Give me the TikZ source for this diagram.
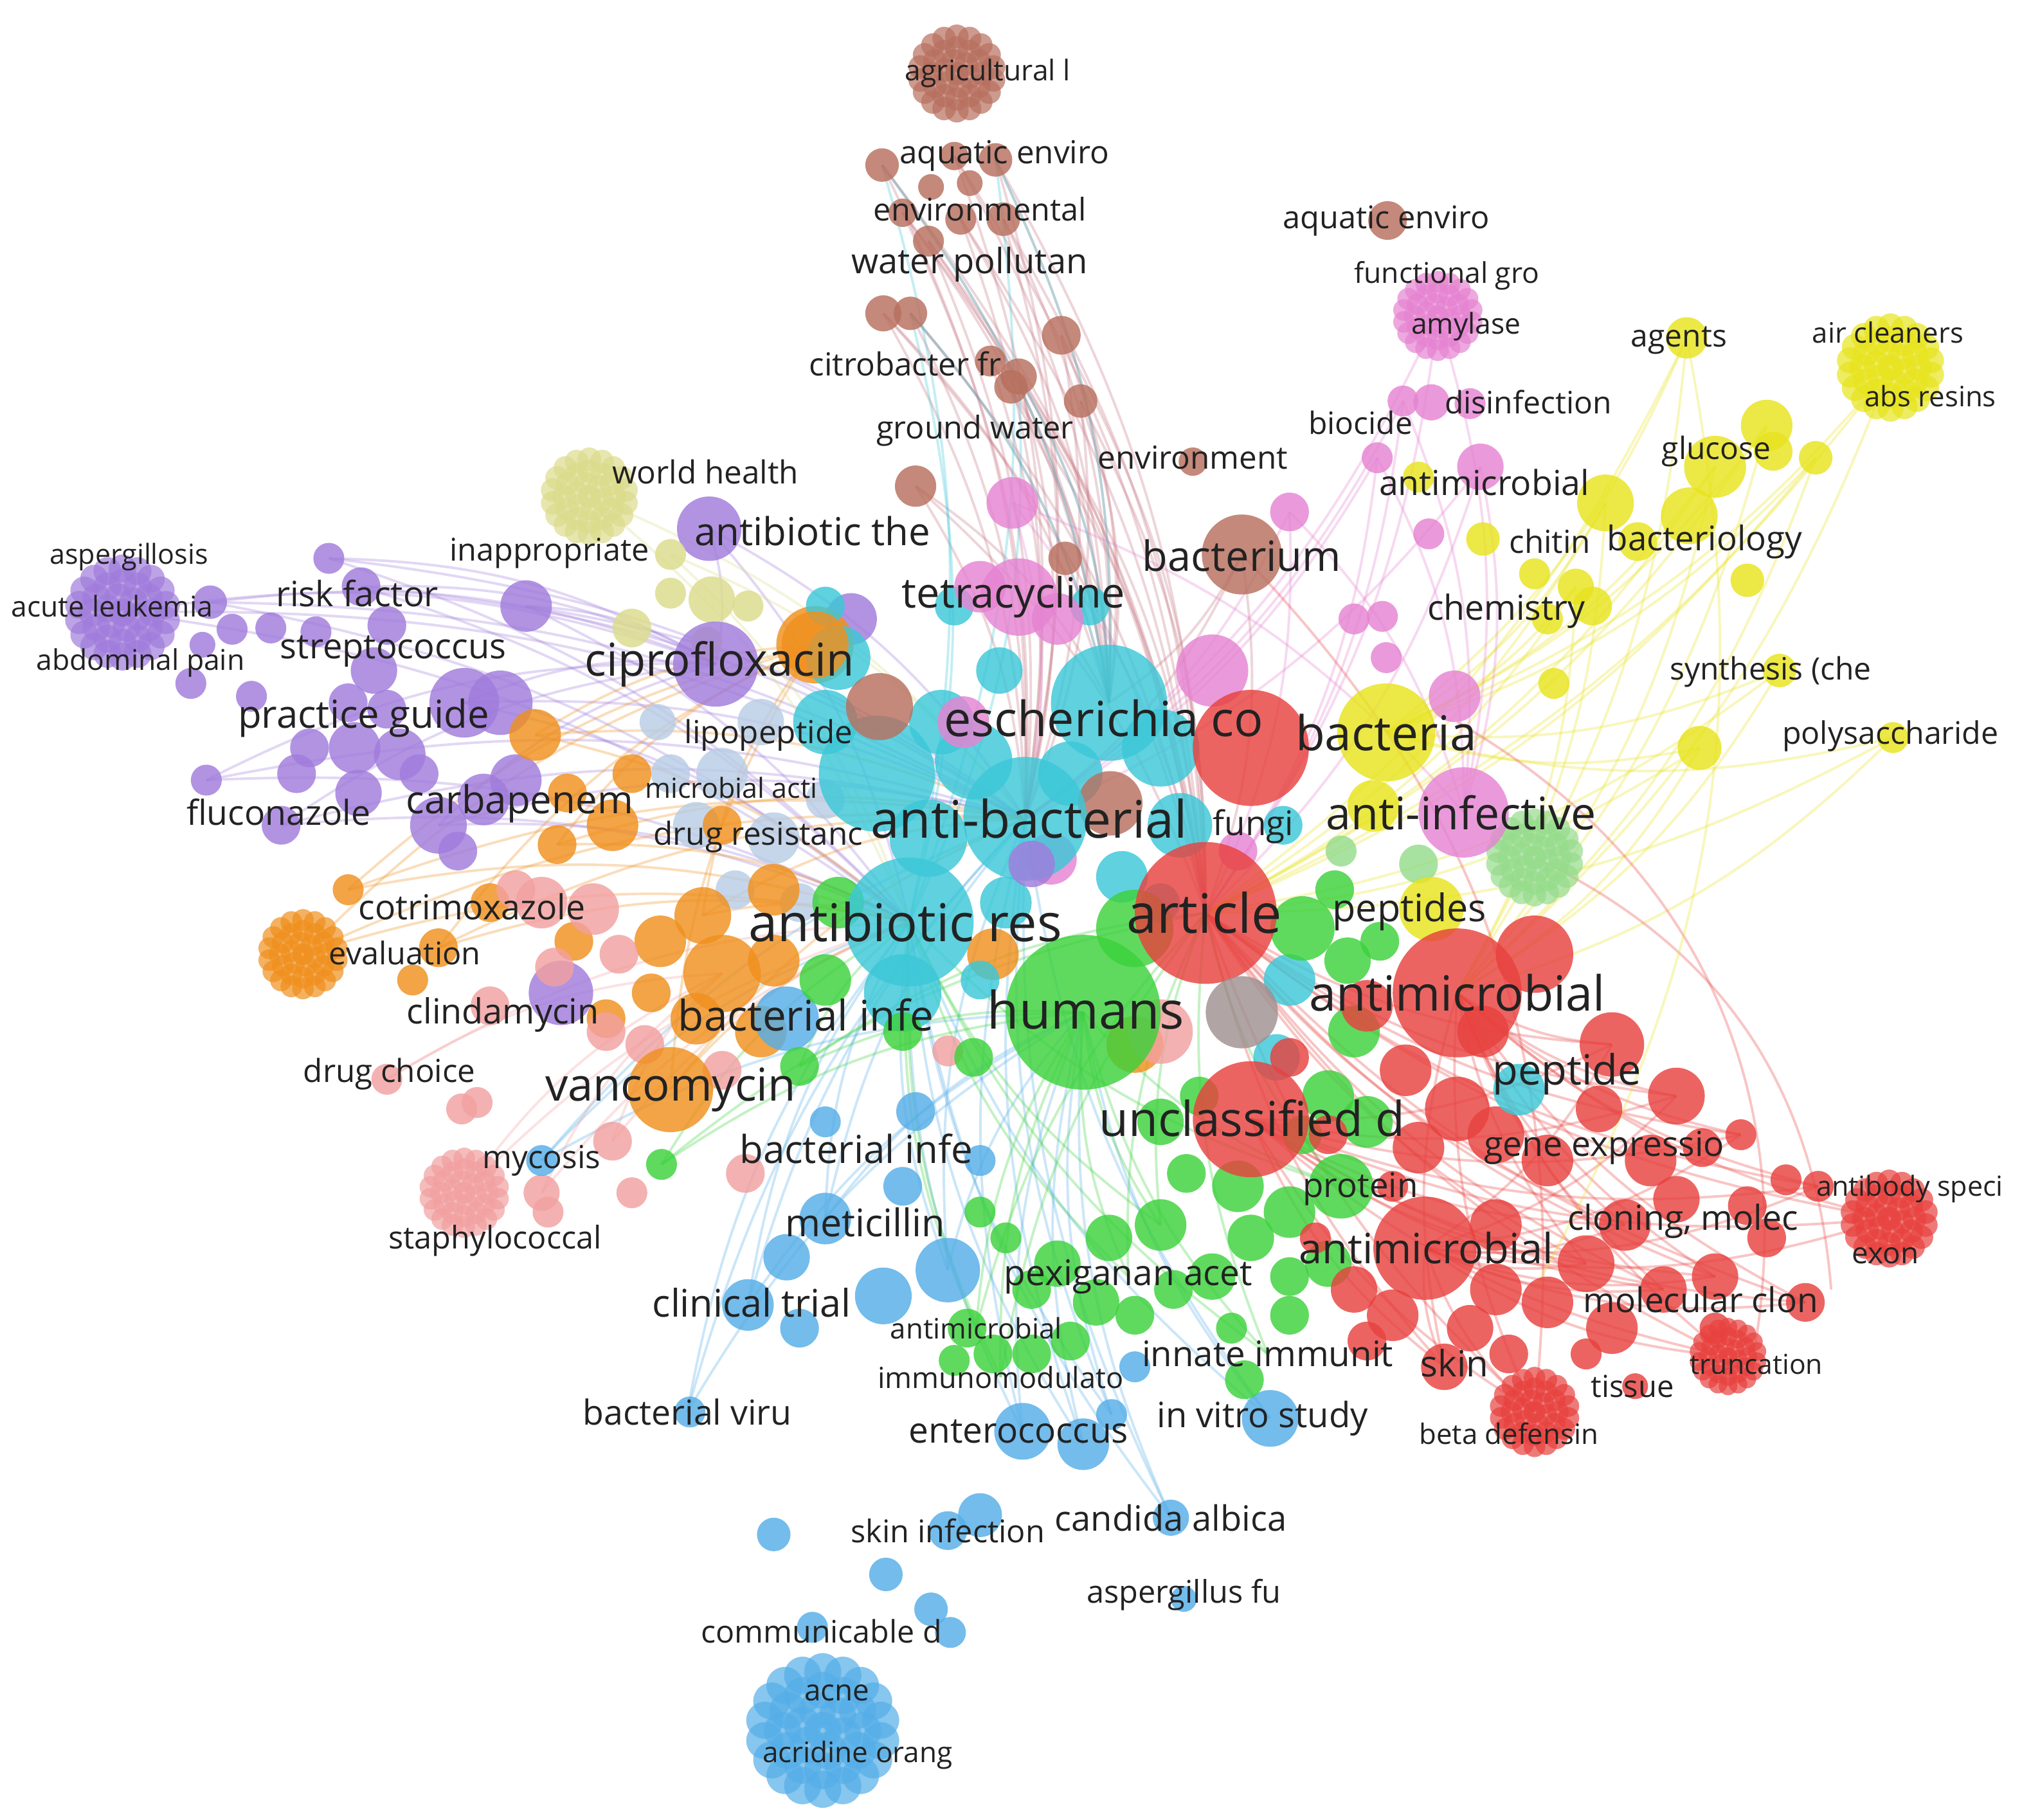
\documentclass[tikz,border=0pt]{standalone}
\usepackage{fontspec}
\setmainfont{Open Sans}
\definecolor{cRed}{HTML}{E8423F}
\definecolor{cGreen}{HTML}{3CD23C}
\definecolor{cBlue}{HTML}{55AEE8}
\definecolor{cYellow}{HTML}{E8E41E}
\definecolor{cPurple}{HTML}{A07CDC}
\definecolor{cCyan}{HTML}{3CC8D8}
\definecolor{cOrange}{HTML}{F0901E}
\definecolor{cBrown}{HTML}{B8705F}
\definecolor{cPink}{HTML}{E684D2}
\definecolor{cSalmon}{HTML}{F2A0A0}
\definecolor{cKhaki}{HTML}{DCDC8C}
\definecolor{cLGreen}{HTML}{96DC8C}
\definecolor{cLBlue}{HTML}{B9CDE6}
\definecolor{cGrey}{HTML}{A09090}
\definecolor{cText}{HTML}{222222}
\tikzset{
  eline/.style={line width=0.55pt, draw opacity=0.3},
  lbl/.style={inner sep=0pt, text=cText}
}
\newcounter{lb}
\newcommand\lab[4]{\stepcounter{lb}\node[lbl,font=\fontsize{#3}{#3}\selectfont] (L\thelb) at (#1,#2) {#4};}
\newcommand\bubs[2]{\foreach \xx/\yy/\rr in {#2} {\fill[#1,fill opacity=.82] (\xx,\yy) circle[radius=\rr*0.01cm];}}
\newcommand\blob[4]{%
  \begin{scope}[shift={(#1,#2)}]
  \fill[#4,fill opacity=.7] (0,0) circle[radius=0.24*#3*0.01cm];
  \foreach \kk in {0,...,5} {\fill[#4,fill opacity=.7] ({0.27*#3*cos(60*\kk+15)},{0.27*#3*sin(60*\kk+15)}) circle[radius=0.24*#3*0.01cm];}
  \foreach \kk in {0,...,11} {\fill[#4,fill opacity=.7] ({0.52*#3*cos(30*\kk)},{0.52*#3*sin(30*\kk)}) circle[radius=0.24*#3*0.01cm];}
  \foreach \kk in {0,...,17} {\fill[#4,fill opacity=.7] ({0.76*#3*cos(20*\kk+10)},{0.76*#3*sin(20*\kk+10)}) circle[radius=0.24*#3*0.01cm];}
  \end{scope}}
\newcommand\edges[3]{\foreach \sx/\sy in {#2} {\foreach \tx/\ty in {#3} {\draw[#1,eline] (\sx,\sy) to[bend left=14] (\tx,\ty);}}}
\begin{document}
\begin{tikzpicture}[x=0.01cm,y=-0.01cm]
\fill[white] (0,0) rectangle (1568,1411);
\useasboundingbox (0,0) rectangle (1568,1411);
% ---------------- edges
\edges{cBrown!70!cPink}{684/128,740/121,772/124,700/165,745/170,778/170,720/187,685/243,706/243,823/260,768/280,790/292,838/311,710/377,963/430}{795/635,935/708,860/545}
\edges{cPurple}{95/475,255/433,163/467,280/455,408/470,360/545,218/640,160/605,550/410,340/640}{555/515,705/715,795/635}
\edges{cYellow}{1308/262,1370/330,1466/285,1245/390,1330/362,1380/520,1468/572,1318/580,1222/455,1408/355}{1075/568,935/708,1130/770}
\edges{cPink}{1115/245,1148/362,1000/397,1088/311,1068/355,785/390}{795/635,935/708,1135/630}
\edges{cRed}{1465/945,1340/1052,1190/1095,1300/850,1250/810,1350/880,1400/1010,1330/990,1260/950,1290/1000,1120/1060,1230/980,1410/920}{1130/770,935/708,970/868,1105/968}
\edges{cBlue}{580/1012,533/1095,793/1110,840/1120,985/1100,420/900,640/945,735/985,862/1097,908/1177}{705/715,795/635,840/785}
\edges{cGreen}{875/990,983/1050,757/1030,776/1068,1040/920,900/950,513/903,620/827}{840/785,935/708,705/715}
\edges{cOrange}{235/740,415/570,432/655,520/845,340/735,270/690,545/710}{705/715,795/635,632/500}
\edges{cSalmon}{360/925,300/837,475/885,420/925}{705/715,560/755}
\edges{cKhaki}{457/385,520/430}{705/715,795/635}
\edges{cCyan}{684/128,772/124,706/243,790/292}{705/715,860/545}
\draw[cRed,eline] (1420,1000) to[bend right=30] (1190,665);
\draw[cRed,eline] (1360,1050) to[bend right=35] (1130,560);
\draw[cRed,eline] (1190,1095) to[bend right=25] (963,430);
\draw[cYellow,eline] (1308,262) to[bend left=20] (1190,1000);
% ---------------- bubbles
% brown
\blob{742}{57}{38}{cBrown}
\bubs{cBrown}{684/128/13,740/121/11,772/124/13,722/145/10,752/142/10,700/165/11,745/170/12,778/170/13,720/187/12,685/243/14,706/243/13,823/260/15,768/280/12,790/292/14,784/300/13,838/311/13,710/377/16,826/433/13,963/430/31,925/358/11,1076/171/15}
% purple
\blob{95}{475}{45}{cPurple}
\bubs{cPurple}{255/433/12,163/467/13,157/500/10,180/488/12,210/487/12,245/490/12,280/455/15,300/485/15,290/520/18,300/550/15,270/545/15,240/580/15,230/600/15,160/605/12,218/640/15,278/615/18,275/580/20,310/585/20,360/545/27,388/545/25,408/470/20,325/600/15,340/640/22,400/605/20,375/620/20,355/660/15,435/770/25,550/410/25,148/530/12,195/540/12,660/480/20}
% khaki
\blob{457}{385}{38}{cKhaki}
\bubs{cKhaki}{520/430/12,552/465/18,490/487/15,548/498/12,580/470/12,520/460/12}
% light blue grey
\bubs{cLBlue}{560/600/20,590/560/18,540/640/18,600/650/20,570/690/15,520/600/15,620/700/15,640/620/15,510/560/14}
% orange
\blob{235}{740}{35}{cOrange}
\bubs{cOrange}{632/500/30,415/570/20,440/615/15,432/655/15,475/640/20,490/600/15,545/710/22,560/755/30,600/745/20,512/730/20,505/770/15,770/740/20,270/690/12,340/735/15,320/760/12,380/700/15,470/790/15,590/800/20,880/810/22,560/640/15,600/690/20,540/790/20,445/730/15}
% salmon
\blob{360}{925}{35}{cSalmon}
\bubs{cSalmon}{300/837/12,370/855/12,358/860/12,420/925/14,425/940/12,475/885/15,490/925/12,578/910/15,400/690/15,420/700/20,460/705/20,480/740/15,430/750/15,470/800/15,500/810/15,380/780/15,735/815/12,900/800/25,560/830/15}
\bubs{cOrange}{520/845/33}
% cyan
\bubs{cCyan}{680/600/45,650/510/25,775/520/18,730/560/25,755/590/30,830/600/25,900/580/30,915/640/25,720/650/30,640/560/25,780/700/20,760/760/15,995/640/15,1000/760/20,990/820/18,700/770/30,640/470/15,740/470/15,870/680/20,900/700/15,845/470/15}
\bubs{cBrown}{682/548/26,861/623/25}
% pink
\blob{1115}{245}{35}{cPink}
\bubs{cPink}{1088/311/12,1110/312/14,1140/313/12,1068/355/12,1000/397/15,1148/362/18,1108/414/12,785/390/20,760/455/20,940/520/28,1128/540/20,1072/478/12,1075/510/12,820/480/20,960/660/15,1050/480/12,747/560/20,815/666/20}
\bubs{cPink}{790/463/30}
% yellow
\blob{1466}{285}{42}{cYellow}
\bubs{cYellow}{1308/262/16,1370/330/20,1330/362/24,1408/355/13,1375/350/15,1245/390/22,1310/400/22,1270/420/15,1150/418/13,1190/445/12,1222/455/14,1355/450/13,1200/480/12,1380/520/13,1468/572/12,1318/580/17,1205/530/12,1065/625/20,1235/470/15,1100/370/12}
\bubs{cYellow}{1075/568/38}
% light green
\blob{1190}{665}{38}{cLGreen}
\bubs{cLGreen}{1100/670/15,1040/660/12}
\bubs{cPink}{1135/630/35}
% blue
\blob{638}{1342}{60}{cBlue}
\bubs{cBlue}{710/862/15,640/945/20,735/985/25,685/1005/22,610/975/18,580/1012/20,620/1030/15,535/1095/12,793/1110/22,840/1120/20,862/1097/12,985/1100/22,420/900/12,610/790/25,908/1177/14,735/1187/15,760/1175/17,600/1190/13,687/1221/13,722/1248/13,737/1266/12,630/1262/12,918/1240/10,700/920/15,760/900/12,880/1060/12,640/870/12}
% green
\bubs{cGreen}{880/720/30,1010/720/25,1035/690/15,1045/745/18,1070/730/15,620/827/15,513/903/12,650/700/20,640/760/20,700/800/15,755/820/15,1050/800/20,1030/850/20,1060/870/20,1040/920/25,1000/940/20,960/920/20,920/910/15,900/950/20,860/960/18,820/980/18,800/1000/15,850/1010/18,880/1020/15,910/1000/15,940/990/18,970/960/18,1000/990/15,760/940/12,780/960/12,750/1030/15,770/1050/15,740/1055/12,800/1050/15,830/1040/15,965/1070/15,1000/1020/15,1030/980/18,900/870/18,930/850/15,1010/880/15,955/1030/12}
\bubs{cCyan}{795/635/48,860/545/45,705/715/50}
\bubs{cPurple}{555/515/33,800/670/18}
\bubs{cOrange}{632/500/26}
\bubs{cGreen}{840/785/60}
\bubs{cYellow}{1110/705/25}
% red
\blob{1190}{1095}{35}{cRed}
\blob{1465}{945}{38}{cRed}
\blob{1340}{1052}{30}{cRed}
\bubs{cRed}{970/580/45,1190/740/30,1250/810/25,1300/850/22,1060/780/20,1090/830/20,1130/860/25,1100/890/20,1160/880/22,1200/900/20,1240/860/18,1280/900/20,1320/890/15,1350/880/12,1300/930/18,1260/950/20,1230/980/22,1200/1010/20,1160/1000/20,1140/1030/18,1080/1020/20,1050/1000/18,1060/1040/15,1120/1060/18,1170/1050/15,1250/1030/20,1290/1000/18,1330/990/18,1370/960/15,1400/1010/15,1410/920/12,1385/915/12,1355/935/15,1330/1030/12,1160/950/20,1000/820/15,1030/880/15,1150/800/20,1268/1075/10,1230/1050/12,1020/960/12,1080/920/12}
\bubs{cRed}{935/708/55,1130/770/50,970/868/45,1105/968/40}
\bubs{cCyan}{1178/845/20}
\bubs{cGrey}{963/785/28}
% ---------------- labels
\lab{766}{57}{6.3}{agricultural l}
\lab{779}{121}{7.0}{aquatic enviro}
\lab{760}{162}{6.9}{environmental}
\lab{752}{205}{7.7}{water pollutan}
\lab{702}{282}{7.0}{citrobacter fr}
\lab{756}{334}{6.9}{ground water}
\lab{925}{355}{7.0}{environment}
\lab{1075}{171}{6.9}{aquatic enviro}
\lab{1122}{214}{6.3}{functional gro}
\lab{1137}{253}{6.3}{amylase}
\lab{1302}{264}{6.8}{agents}
\lab{1464}{258}{6.2}{air cleaners}
\lab{1497}{307}{6.2}{abs resins}
\lab{1055}{328}{6.8}{biocide}
\lab{1185}{312}{6.8}{disinfection}
\lab{1331}{350}{6.8}{glucose}
\lab{1151}{374}{7.6}{antimicrobial}
\lab{547}{366}{7.0}{world health}
\lab{426}{429}{6.9}{inappropriate}
\lab{630}{412}{8.5}{antibiotic the}
\lab{963}{431}{9.2}{bacterium}
\lab{1202}{420}{7.0}{chitin}
\lab{1322}{420}{7.5}{bacteriology}
\lab{100}{432}{6.1}{aspergillosis}
\lab{87}{470}{6.3}{acute leukemia}
\lab{109}{514}{6.3}{abdominal pain}
\lab{277}{460}{7.7}{risk factor}
\lab{786}{463}{9.2}{tetracycline}
\lab{1168}{474}{7.6}{chemistry}
\lab{305}{505}{7.7}{streptococcus}
\lab{558}{515}{10}{ciprofloxacin}
\lab{1373}{521}{6.8}{synthesis (che}
\lab{282}{557}{8.5}{practice guide}
\lab{856}{557}{10.7}{escherichia co}
\lab{1075}{568}{10.6}{bacteria}
\lab{596}{570}{7}{lipopeptide}
\lab{1466}{571}{6.85}{polysaccharide}
\lab{567}{611}{6.1}{microbial acti}
\lab{216}{630}{7.6}{fluconazole}
\lab{403}{623}{8.5}{carbapenem}
\lab{798}{635}{11.4}{anti-bacterial}
\lab{972}{641}{7.5}{fungi}
\lab{1133}{630}{9.9}{anti-infective}
\lab{588}{649}{7}{drug resistanc}
\lab{366}{703}{7.6}{cotrimoxazole}
\lab{702}{715}{11.5}{antibiotic res}
\lab{934}{708}{12}{article}
\lab{1093}{707}{8.4}{peptides}
\lab{314}{739}{6.9}{evaluation}
\lab{390}{787}{7.65}{clindamycin}
\lab{625}{787}{9.3}{bacterial infe}
\lab{842}{783}{11.4}{humans}
\lab{1130}{770}{10.7}{antimicrobial}
\lab{302}{833}{7}{drug choice}
\lab{520}{845}{10}{vancomycin}
\lab{1215}{833}{9.2}{peptide}
\lab{971}{867}{10.6}{unclassified d}
\lab{664}{891}{8.5}{bacterial infe}
\lab{1244}{890}{7.6}{gene expressio}
\lab{420}{900}{7}{mycosis}
\lab{1055}{922}{7.5}{protein}
\lab{384}{962}{6.9}{staphylococcal}
\lab{671}{948}{8.4}{meticillin}
\lab{1305}{947}{7.6}{cloning, molec}
\lab{1481}{922}{6.1}{antibody speci}
\lab{1106}{968}{9.2}{antimicrobial}
\lab{1462}{974}{6.5}{exon}
\lab{875}{990}{7.8}{pexiganan acet}
\lab{583}{1010}{8.4}{clinical trial}
\lab{1319}{1008}{7.55}{molecular clon}
\lab{757}{1030}{6.2}{antimicrobial}
\lab{983}{1050}{7.75}{innate immunit}
\lab{1128}{1057}{8}{skin}
\lab{1362}{1058}{6.05}{truncation}
\lab{776}{1068}{6.4}{immunomodulato}
\lab{1266}{1075}{6.7}{tissue}
\lab{533}{1095}{7.6}{bacterial viru}
\lab{979}{1100}{7.7}{in vitro study}
\lab{790}{1110}{7.8}{enterococcus}
\lab{1170}{1112}{6.2}{beta defensin}
\lab{908}{1177}{7.7}{candida albica}
\lab{735}{1187}{6.9}{skin infection}
\lab{918}{1237}{6.9}{aspergillus fu}
\lab{637}{1265}{6.85}{communicable d}
\lab{649}{1313}{6.5}{acne}
\lab{665}{1361}{6.25}{acridine orang}
\end{tikzpicture}
\end{document}
